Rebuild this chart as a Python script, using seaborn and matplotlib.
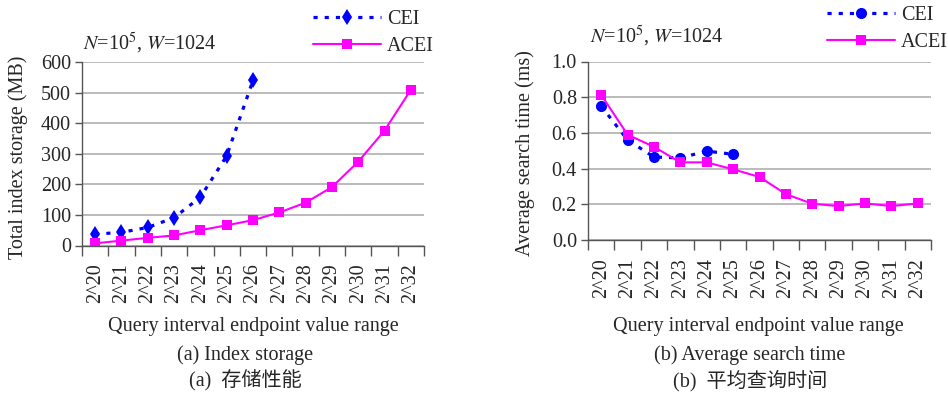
import numpy as np
import pandas as pd
import matplotlib
matplotlib.use("Agg")
import matplotlib.pyplot as plt
import seaborn as sns

# ==========================================
# DATA
# ==========================================
RANGES = ["2^20", "2^21", "2^22", "2^23", "2^24", "2^25", "2^26",
          "2^27", "2^28", "2^29", "2^30", "2^31", "2^32"]

storage_cei = [37, 43, 59, 91, 158, 293, 540]
storage_acei = [7, 16, 25, 33, 50, 66, 83, 108, 140, 191, 274, 376, 509]

time_cei = [0.75, 0.56, 0.465, 0.46, 0.498, 0.48]
time_acei = [0.813, 0.59, 0.522, 0.435, 0.435, 0.396, 0.353,
             0.257, 0.203, 0.19, 0.205, 0.19, 0.205]

STORAGE_TICKS = [0, 100, 200, 300, 400, 500, 600]
TIME_TICKS = [0.0, 0.2, 0.4, 0.6, 0.8, 1.0]

# ==========================================
# STYLE
# ==========================================
sns.set_style("white")
plt.rcParams['font.family'] = ['Liberation Serif', 'Noto Sans CJK SC']
plt.rcParams['mathtext.fontset'] = 'stix'
FS = 14.5

W, H = 948, 396
fig = plt.figure(figsize=(W / 100, H / 100), dpi=100)


def px_axes(x0, y0, x1, y1):
    return fig.add_axes([x0 / W, 1 - y1 / H, (x1 - x0) / W, (y1 - y0) / H])


def frame(series, name):
    return pd.DataFrame({"pos": np.arange(len(series)), "value": series,
                         "scheme": name})


def draw(ax, cei, acei, cei_marker, cei_ms, yticks, fmt):
    sns.lineplot(data=frame(cei, "CEI"), x="pos", y="value", ax=ax,
                 color="#0000FF", linewidth=2.3, linestyle=(0, (1.3, 2.2)),
                 marker=cei_marker, markersize=cei_ms, markeredgewidth=0,
                 label="CEI", legend=False)
    sns.lineplot(data=frame(acei, "ACEI"), x="pos", y="value", ax=ax,
                 color="#FF00FF", linewidth=1.5, marker="s", markersize=7.5,
                 markeredgewidth=0, label="ACEI", legend=False)

    ax.set_xlim(-0.5, len(RANGES) - 0.5)
    ax.set_ylim(yticks[0], yticks[-1])
    ax.set_yticks(yticks)
    ax.set_yticklabels([fmt(v) for v in yticks], fontsize=FS)
    # boundary ticks (unlabeled) + centered labels
    ax.set_xticks(np.arange(len(RANGES) + 1) - 0.5)
    ax.set_xticklabels([])
    ax.set_xticks(np.arange(len(RANGES)), minor=True)
    ax.set_xticklabels(RANGES, minor=True, rotation=90, fontsize=FS)
    ax.tick_params(axis='x', which='major', length=7, width=1, color='#555555',
                   direction='out', bottom=True)
    ax.tick_params(axis='x', which='minor', length=0, pad=13)
    ax.tick_params(axis='y', length=5, width=1, color='#555555',
                   direction='out', left=True, pad=3)
    ax.yaxis.grid(True, color='#a8a8a8', linewidth=1.1)
    ax.set_axisbelow(True)
    for side in ('top', 'right'):
        ax.spines[side].set_visible(False)
    for side in ('left', 'bottom'):
        ax.spines[side].set_color('#555555')
        ax.spines[side].set_linewidth(1)
    ax.set_xlabel("")
    ax.set_ylabel("")


# (a) storage
ax1 = px_axes(82, 62, 424, 245.5)
draw(ax1, storage_cei, storage_acei, "d", 8.5, STORAGE_TICKS, lambda v: f"{v}")
# (b) search time
ax2 = px_axes(588, 61.5, 931, 240)
draw(ax2, time_cei, time_acei, "o", 8, TIME_TICKS, lambda v: f"{v:.1f}")

for ax, right, top in ((ax1, 434, 10), (ax2, 948, 6)):
    ax.legend(handles=ax.lines, labels=["CEI", "ACEI"], loc='upper right',
              bbox_to_anchor=(right / W, 1 - top / H),
              bbox_transform=fig.transFigure, frameon=False, fontsize=FS,
              handlelength=3.4, handletextpad=0.3, labelspacing=0.4,
              borderpad=0, borderaxespad=0)

param = r"$\mathit{N}$=10$^5$, $\mathit{W}$=1024"
fig.text(83 / W, 1 - 43 / H, param, fontsize=FS, va='center', ha='left')
fig.text(590 / W, 1 - 36 / H, param, fontsize=FS, va='center', ha='left')

fig.text(18 / W, 1 - 157 / H, "Total index storage (MB)", fontsize=FS,
         rotation=90, ha='center', va='center')
fig.text(525 / W, 1 - 153 / H, "Average search time (ms)", fontsize=FS,
         rotation=90, ha='center', va='center')

for cx, cap_en, cap_zh in ((253, "(a) Index storage", "(a)  存储性能"),
                           (758, "(b) Average search time", "(b)  平均查询时间")):
    fig.text(cx / W, 1 - 326 / H, "Query interval endpoint value range",
             fontsize=FS, ha='center', va='center')
    fig.text((cx - 8) / W, 1 - 355 / H, cap_en, fontsize=FS,
             ha='center', va='center')
    fig.text((cx - 8) / W, 1 - 381 / H, cap_zh, fontsize=FS,
             ha='center', va='center')

fig.savefig("out.png", dpi=100)
